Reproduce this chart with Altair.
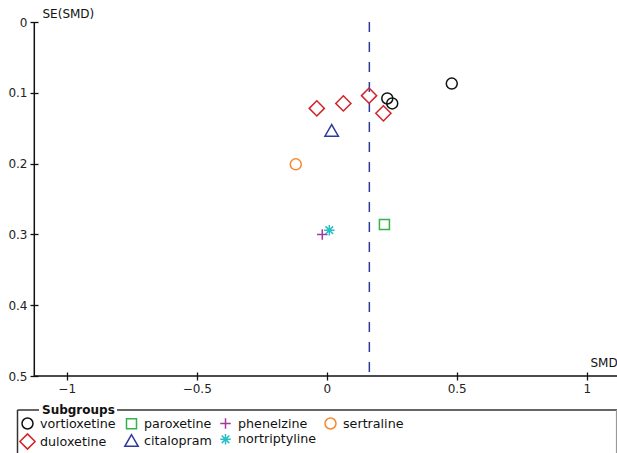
import altair as alt
import pandas as pd

# ---- data ----
groups = ["vortioxetine", "paroxetine", "phenelzine", "sertraline",
          "duloxetine", "citalopram", "nortriptyline"]
smd = {
    "vortioxetine": [0.481, 0.233, 0.252],
    "duloxetine": [-0.038, 0.064, 0.163, 0.218],
    "citalopram": [0.019],
    "sertraline": [-0.119],
    "paroxetine": [0.222],
    "nortriptyline": [0.010],
    "phenelzine": [-0.017],
}
se = {
    "vortioxetine": [0.087, 0.108, 0.115],
    "duloxetine": [0.122, 0.115, 0.104, 0.129],
    "citalopram": [0.153],
    "sertraline": [0.201],
    "paroxetine": [0.286],
    "nortriptyline": [0.294],
    "phenelzine": [0.300],
}
pooled_smd = [0.164]
x_ticks = [-1, -0.5, 0, 0.5, 1]
y_ticks = [0, 0.1, 0.2, 0.3, 0.4, 0.5]

colors = ["#111111", "#33b44a", "#a3399b", "#f58a2c", "#d1232a", "#2e3a9e", "#27bfc4"]
shapes = ["circle", "square", "M-1,0H1M0,-1V1", "circle", "diamond", "triangle-up",
          "M-1,0H1M0,-1V1M-0.72,-0.72L0.72,0.72M-0.72,0.72L0.72,-0.72"]
sizes = [121, 100, 110, 121, 230, 180, 110]

rows = []
for g in groups:
    for a, b in zip(smd[g], se[g]):
        rows.append({"group": g, "SMD": a, "SE": b})
df = pd.DataFrame(rows)

W, H = 583, 354
xscale = alt.Scale(domain=[-1.1258, 1.1165], nice=False, zero=False)
yscale = alt.Scale(domain=[0, 0.5], reverse=True, nice=False, zero=False)
FONT = "DejaVu Sans"

points = alt.Chart(df).mark_point(filled=False, strokeWidth=1.5, opacity=1).encode(
    x=alt.X("SMD:Q", scale=xscale, axis=alt.Axis(
        values=x_ticks, format="~g", title="SMD", titleAngle=0, titleAlign="left",
        titleBaseline="alphabetic", titleX=556, titleY=-6, titleFontWeight="normal",
        titleFont=FONT, titleFontSize=12, titleColor="#111",
        domain=False, grid=False, offset=-4, tickSize=8, tickColor="#111", tickWidth=1.3,
        labelFont=FONT, labelFontSize=12, labelColor="#222", labelPadding=3,
    )),
    y=alt.Y("SE:Q", scale=yscale, axis=alt.Axis(
        values=y_ticks, format="~g", title="SE(SMD)", titleAngle=0, titleAlign="left",
        titleBaseline="alphabetic", titleX=4, titleY=-5, titleFontWeight="normal",
        titleFont=FONT, titleFontSize=12, titleColor="#111",
        domain=False, grid=False, offset=-4, tickSize=8, tickColor="#111", tickWidth=1.3,
        labelFont=FONT, labelFontSize=12, labelColor="#222", labelPadding=3,
    )),
    color=alt.Color("group:N", scale=alt.Scale(domain=groups, range=colors), legend=alt.Legend(
        title=None, orient="none", legendX=-15, legendY=395, columns=4, direction="horizontal",
        labelFont=FONT, labelFontSize=12.7, labelColor="#111", columnPadding=5, rowPadding=-2,
        labelOffset=4, symbolStrokeWidth=1.5, gridAlign="each", padding=0)),
    shape=alt.Shape("group:N", scale=alt.Scale(domain=groups, range=shapes)),
    size=alt.Size("group:N", scale=alt.Scale(type="ordinal", domain=groups, range=sizes)),
)

pooled = alt.Chart(pd.DataFrame({"SMD": pooled_smd, "lo": [0.0], "hi": [0.5]})).mark_rule(
    color="#2e3a9e", strokeWidth=1.5, strokeDash=[10, 10]
).encode(x=alt.X("SMD:Q", scale=xscale), y=alt.Y("lo:Q", scale=yscale), y2="hi:Q")

one = pd.DataFrame({"a": [0]})
deco = alt.Chart(one)
yaxis_line = deco.mark_rule(color="#111", strokeWidth=1.5).encode(
    x=alt.value(0.3), y=alt.value(0), y2=alt.value(H))
xaxis_line = deco.mark_rule(color="#111", strokeWidth=1.5).encode(
    x=alt.value(0), x2=alt.value(W), y=alt.value(H))

frame_col = "#333333"
f1 = deco.mark_rule(color=frame_col, strokeWidth=1.5).encode(
    x=alt.value(-16.5), x2=alt.value(5), y=alt.value(388))
f2 = deco.mark_rule(color=frame_col, strokeWidth=1.5).encode(
    x=alt.value(83), x2=alt.value(W + 2), y=alt.value(388))
f3 = deco.mark_rule(color=frame_col, strokeWidth=1.5).encode(
    x=alt.value(-16.5), y=alt.value(388), y2=alt.value(440))
f4 = deco.mark_rule(color="#999999", strokeWidth=1.2).encode(
    x=alt.value(582.5), y=alt.value(388), y2=alt.value(440))
legend_title = deco.mark_text(
    text="Subgroups", font=FONT, fontSize=12, fontWeight="bold", align="left",
    baseline="middle", color="#111").encode(x=alt.value(8), y=alt.value(387.5))

chart = alt.layer(pooled, points, yaxis_line, xaxis_line, f1, f2, f3, f4, legend_title).properties(
    width=W, height=H,
    autosize=alt.AutoSizeParams(type="none"),
    padding={"left": 34, "top": 22, "right": 0, "bottom": 77},
).configure(background="white").configure_view(stroke=None)

chart.save("out.html", embed_options={"renderer": "svg", "actions": False})
